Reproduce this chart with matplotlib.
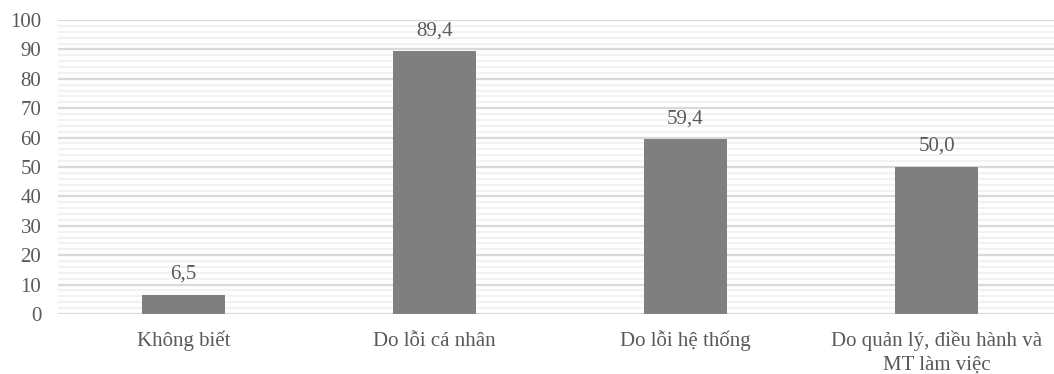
import matplotlib
matplotlib.use("Agg")
import matplotlib.pyplot as plt
from matplotlib.ticker import MultipleLocator
import matplotlib.transforms as mtrans
import numpy as np

categories = ["Không biết", "Do lỗi cá nhân", "Do lỗi hệ thống",
              "Do quản lý, điều hành và\nMT làm việc"]
values = [6.5, 89.4, 59.4, 50.0]
value_labels = ["6,5", "89,4", "59,4", "50,0"]

plt.rcParams['font.family'] = ['Liberation Serif', 'DejaVu Serif']
txt = '#595959'
fs = 15

fig = plt.figure(figsize=(10.54, 3.74), dpi=100)
ax = fig.add_axes([58/1054, 1 - 314/374, 1004/1054, 294/374])

x = np.arange(len(categories))
ax.bar(x, values, width=0.33, color='#7f7f7f', zorder=3)
# value labels, baseline ~16px above bar top
for xi, v, lab in zip(x, values, value_labels):
    ax.annotate(lab, (xi, v), xytext=(0, 11.5), textcoords='offset points',
                ha='center', va='baseline', fontsize=fs, color=txt)

ax.set_xlim(-0.5, 3.5)
ax.set_ylim(0, 100)
ax.yaxis.set_major_locator(MultipleLocator(10))
ax.yaxis.set_minor_locator(MultipleLocator(2))
ax.grid(axis='y', which='major', color='#d9d9d9', linewidth=1.6, zorder=0)
ax.grid(axis='y', which='minor', color='#f2f2f2', linewidth=1.6, zorder=0)

# category labels drawn line by line so all share one baseline
ax.set_xticks(x)
ax.set_xticklabels([])
trans = mtrans.blended_transform_factory(ax.transData, ax.transAxes)
for xi, c in zip(x, categories):
    for i, line in enumerate(c.split('\n')):
        ax.text(xi, -(32 + 24*i)/294, line, transform=trans, ha='center',
                va='baseline', fontsize=fs, color=txt)

ax.tick_params(axis='both', which='both', length=0)
ax.tick_params(axis='y', labelsize=fs, labelcolor=txt, pad=12)
for s in ax.spines.values():
    s.set_visible(False)

fig.savefig('out.png', dpi=100)
